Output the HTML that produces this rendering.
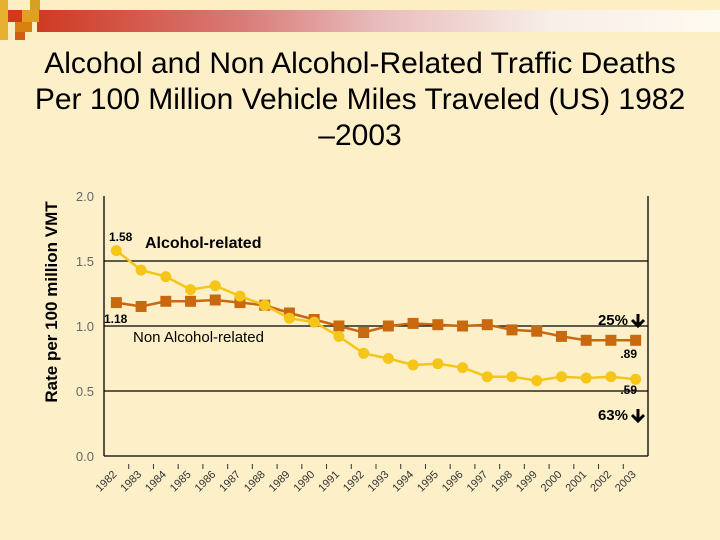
<!DOCTYPE html>
<html><head><meta charset="utf-8"><style>
body{margin:0;background:#fdf0c9;}
#wrap{position:relative;width:720px;height:540px;overflow:hidden;background:#fdf0c9;font-family:"Liberation Sans",sans-serif;}
.t{position:absolute;left:0;width:720px;text-align:center;font-size:30px;line-height:36px;color:#000;}
</style></head><body>
<div id="wrap">
<div style="position:absolute;left:0;top:0;width:720px;height:40px;background:#fdeec4">
  <div style="position:absolute;left:37px;top:10px;width:683px;height:22px;background:linear-gradient(90deg,#cf3a22,#d97b78 30%,#e8bcbc 50%,#f7eee8 75%,#fffaf0)"></div>
  <div style="position:absolute;left:0;top:0;width:8px;height:40px;background:#e8b030"></div>
  <div style="position:absolute;left:8px;top:10px;width:14px;height:12px;background:#d03a18"></div>
  <div style="position:absolute;left:22px;top:10px;width:17px;height:12px;background:#e0a020"></div>
  <div style="position:absolute;left:30px;top:0;width:10px;height:10px;background:#d8a020"></div>
  <div style="position:absolute;left:15px;top:22px;width:17px;height:10px;background:#d88010"></div>
  <div style="position:absolute;left:15px;top:32px;width:10px;height:8px;background:#d06010"></div>
</div>
<div class="t" style="top:46px">Alcohol and Non Alcohol-Related Traffic Deaths<br>Per 100 Million Vehicle Miles Traveled (US) 1982<br>–2003</div>
<svg id="chart" width="720" height="540" style="position:absolute;left:0;top:0"></svg>
</div>
<script>
const years=["1982","1983","1984","1985","1986","1987","1988","1989","1990","1991","1992","1993","1994","1995","1996","1997","1998","1999","2000","2001","2002","2003"];
const alcohol=[1.58,1.43,1.38,1.28,1.31,1.23,1.16,1.06,1.03,0.92,0.79,0.75,0.70,0.71,0.68,0.61,0.61,0.58,0.61,0.60,0.61,0.59];
const nonAlcohol=[1.18,1.15,1.19,1.19,1.20,1.18,1.16,1.10,1.05,1.00,0.95,1.00,1.02,1.01,1.00,1.01,0.97,0.96,0.92,0.89,0.89,0.89];
const yTicks=[0,0.5,1.0,1.5,2.0];
const yTickLabels=["0.0","0.5","1.0","1.5","2.0"];

const svg=document.getElementById('chart');
const NS="http://www.w3.org/2000/svg";
const L=104,R=648,T=196,B=456;
const step=(R-L)/years.length;
function xs(i){return L+step*(i+0.5);}
function ys(v){return B-(v/2.0)*(B-T);}
function mk(tag,attrs,parent){const e=document.createElementNS(NS,tag);for(const k in attrs)e.setAttribute(k,attrs[k]);(parent||svg).appendChild(e);return e;}

yTicks.forEach((v,i)=>{
  if(v>0&&v<2){const g=mk('line',{x1:L,x2:R,y1:ys(v),y2:ys(v),stroke:'#000','stroke-width':1.3});
  
  }
  const t=mk('text',{x:L-10,y:ys(v)+5,'text-anchor':'end','font-size':13,fill:'#666','font-family':'Liberation Sans, sans-serif'});
  t.textContent=yTickLabels[i];
  
  
});
const ax=mk('line',{x1:L,x2:L,y1:T,y2:B,stroke:'#000','stroke-width':1.3});


const rx=mk('line',{x1:R,x2:R,y1:T,y2:B,stroke:'#000','stroke-width':1.3});


const xa=mk('line',{x1:L,x2:R,y1:B,y2:B,stroke:'#000','stroke-width':1.3});


years.forEach((y,i)=>{
  if(i>0){const tk=mk('line',{x1:L+step*i,x2:L+step*i,y1:B+8,y2:B+13,stroke:'#333','stroke-width':1});
  
  }
  const x=xs(i)+1,yy=B+19;
  const t=mk('text',{x:x,y:yy,'font-size':11,fill:'#333','text-anchor':'end',transform:`rotate(-45 ${x} ${yy})`,'font-family':'Liberation Sans, sans-serif'});
  t.textContent=y;
  
  
});
function series(vals,color,shape,name){
  const pts=vals.map((v,i)=>xs(i)+','+ys(v)).join(' ');
  const pl=mk('polyline',{points:pts,fill:'none',stroke:color,'stroke-width':2.5});
  
  
  vals.forEach((v,i)=>{
    let m;
    if(shape==='circle')m=mk('circle',{cx:xs(i),cy:ys(v),r:5.5,fill:color});
    else m=mk('rect',{x:xs(i)-5.5,y:ys(v)-5.5,width:11,height:11,fill:color});
    
    
  });
}
series(nonAlcohol,'#c8690f','rect','non-alcohol');
series(alcohol,'#f5c518','circle','alcohol');

function label(txt,x,y,size,bold,name,anchor){
  const t=mk('text',{x:x,y:y,'font-size':size,'font-weight':bold?'bold':'normal',fill:'#000','text-anchor':anchor||'start','font-family':'Liberation Sans, sans-serif'});
  t.textContent=txt;
  
  
}
label('1.58',109,241,12,true,'start-value-alcohol');
label('Alcohol-related',145,248,16,true,'alcohol-series-label');
label('1.18',104,323,12,true,'start-value-non-alcohol');
label('Non Alcohol-related',133,342,15,false,'non-alcohol-series-label');
label('25%',628,325,15,true,'non-alcohol-change','end');
label('.89',637,358,12,true,'end-value-non-alcohol','end');
label('.59',637,394,12,true,'end-value-alcohol','end');
label('63%',628,420,15,true,'alcohol-change','end');
function arrow(x,y,name){
  const p=mk('path',{d:`M${x} ${y-12} V${y} M${x-6} ${y-6} L${x} ${y} L${x+6} ${y-6}`,stroke:'#000','stroke-width':3,fill:'none'});
  
  
}
arrow(638,326,'arrow-down-1');
arrow(638,421,'arrow-down-2');

const yl=mk('text',{x:0,y:0,'font-size':17,'font-weight':'bold',fill:'#000','text-anchor':'middle',transform:'translate(57,302) rotate(-90)','font-family':'Liberation Sans, sans-serif'});
yl.textContent='Rate per 100 million VMT';


</script>
</body></html>
